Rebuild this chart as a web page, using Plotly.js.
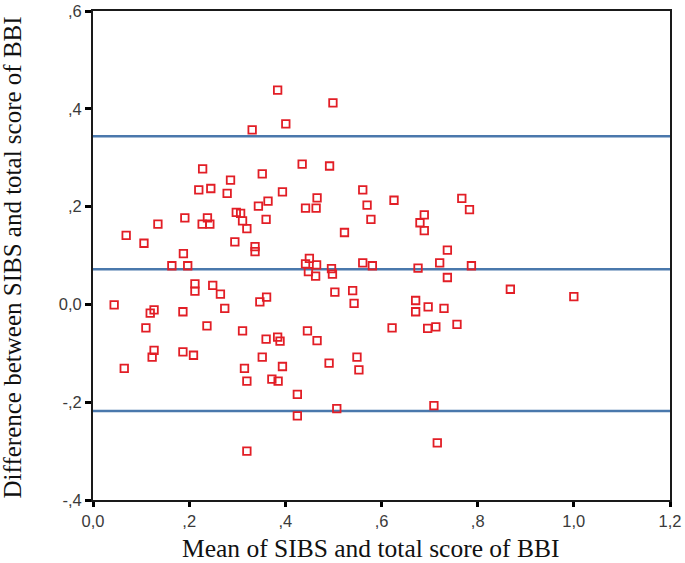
<!DOCTYPE html>
<html>
<head>
<meta charset="utf-8">
<script src="https://cdn.plot.ly/plotly-3.0.1.min.js"></script>
<style>
html,body{margin:0;padding:0;background:#fff;}
#chart{width:685px;height:563px;}
</style>
</head>
<body>
<div id="chart"></div>
<script>
// Mean of the two scores (x) and their difference (y)
const meanScores = [
  0.384, 0.499, 0.401, 0.331, 0.228, 0.352, 0.286, 0.220, 0.245, 0.279,
  0.344, 0.135, 0.191, 0.238, 0.227, 0.243, 0.298, 0.307, 0.311, 0.320,
  0.069, 0.106, 0.295, 0.337, 0.337, 0.188, 0.164, 0.197, 0.212, 0.212,
  0.249, 0.265, 0.044, 0.119, 0.127, 0.187, 0.274, 0.110, 0.237, 0.311,
  0.127, 0.123, 0.187, 0.209, 0.065, 0.315, 0.320, 0.320, 0.435, 0.492,
  0.394, 0.561, 0.626, 0.364, 0.466, 0.442, 0.464, 0.570, 0.578, 0.360,
  0.523, 0.450, 0.442, 0.465, 0.496, 0.561, 0.581, 0.448, 0.463, 0.498,
  0.503, 0.540, 0.543, 0.347, 0.361, 0.671, 0.671, 0.446, 0.466, 0.622,
  0.360, 0.384, 0.389, 0.352, 0.394, 0.491, 0.549, 0.553, 0.372, 0.385,
  0.425, 0.507, 0.425, 0.767, 0.783, 0.689, 0.680, 0.689, 0.737, 0.721,
  0.787, 0.676, 0.737, 0.868, 1.000, 0.697, 0.730, 0.696, 0.713, 0.757,
  0.709, 0.716
];
const diffScores = [
  0.438, 0.412, 0.369, 0.357, 0.277, 0.267, 0.254, 0.234, 0.237, 0.227,
  0.201, 0.164, 0.177, 0.177, 0.164, 0.164, 0.188, 0.186, 0.171, 0.155,
  0.141, 0.125, 0.128, 0.118, 0.108, 0.104, 0.079, 0.079, 0.042, 0.027,
  0.039, 0.021, -0.001, -0.018, -0.011, -0.015, -0.008, -0.048, -0.044, -0.054,
  -0.094, -0.108, -0.097, -0.104, -0.131, -0.131, -0.157, -0.300, 0.287, 0.283,
  0.230, 0.234, 0.213, 0.211, 0.218, 0.197, 0.197, 0.203, 0.174, 0.174,
  0.147, 0.094, 0.083, 0.081, 0.073, 0.085, 0.079, 0.067, 0.058, 0.062,
  0.025, 0.028, 0.002, 0.005, 0.015, 0.008, -0.015, -0.054, -0.074, -0.048,
  -0.071, -0.067, -0.075, -0.108, -0.127, -0.120, -0.108, -0.134, -0.153, -0.157,
  -0.184, -0.213, -0.228, 0.217, 0.194, 0.183, 0.167, 0.151, 0.111, 0.085,
  0.079, 0.074, 0.055, 0.031, 0.016, -0.005, -0.008, -0.049, -0.046, -0.041,
  -0.207, -0.283
];
// Reference lines: upper limit, mean difference, lower limit
const limitValues = [0.344, 0.072, -0.218];

const xTickVals = [0, 0.2, 0.4, 0.6, 0.8, 1.0, 1.2];
const xTickText = ["0,0", ",2", ",4", ",6", ",8", "1,0", "1,2"];
const yTickVals = [-0.4, -0.2, 0, 0.2, 0.4, 0.6];
const yTickText = ["-,4", "-,2", "0,0", ",2", ",4", ",6"];

const xTitle = "Mean of SIBS and total score of BBI";
const yTitle = "Difference between SIBS and total score of BBI";

const trace = {
  x: meanScores,
  y: diffScores,
  type: 'scatter',
  mode: 'markers',
  marker: {
    symbol: 'square-open',
    size: 7.5,
    color: 'rgb(226,30,38)',
    line: {width: 1.8, color: 'rgb(226,30,38)'}
  },
  hoverinfo: 'x+y'
};

const shapes = limitValues.map(v => ({
  type: 'line', xref: 'paper', yref: 'y',
  x0: 0, x1: 1, y0: v, y1: v,
  line: {color: 'rgb(74,120,172)', width: 2.5},
  layer: 'below'
}));

const tickFont = {family: 'Liberation Sans, Arial, sans-serif', size: 16.5, color: '#3a3a3a'};

const layout = {
  width: 685, height: 563,
  margin: {l: 93, r: 15, t: 11, b: 63},
  paper_bgcolor: '#fff', plot_bgcolor: '#fff',
  showlegend: false,
  xaxis: {
    range: [0, 1.2], tickvals: xTickVals, ticktext: xTickText,
    showgrid: false, zeroline: false,
    showline: true, mirror: true, linecolor: '#1a1a1a', linewidth: 2,
    ticks: 'outside', ticklen: 5, tickwidth: 3, tickcolor: '#000',
    tickfont: tickFont
  },
  yaxis: {
    range: [-0.4, 0.6], tickvals: yTickVals, ticktext: yTickText,
    showgrid: false, zeroline: false,
    showline: true, mirror: true, linecolor: '#1a1a1a', linewidth: 2,
    ticks: 'outside', ticklen: 6, tickwidth: 3, tickcolor: '#000',
    tickfont: tickFont
  },
  shapes: shapes,
  annotations: [
    {text: xTitle, xref: 'paper', yref: 'paper', x: 0.4805, y: 0,
     yshift: -48, xanchor: 'center', yanchor: 'middle', showarrow: false,
     font: {family: 'Liberation Serif, Times New Roman, serif', size: 25.5, color: '#111'}},
    {text: yTitle, xref: 'paper', yref: 'paper', x: 0, y: 0.496, xshift: -81,
     xanchor: 'center', yanchor: 'middle', textangle: -90, showarrow: false,
     font: {family: 'Liberation Serif, Times New Roman, serif', size: 25, color: '#111'}}
  ]
};

Plotly.newPlot('chart', [trace], layout, {displayModeBar: false, staticPlot: true});
</script>
</body>
</html>
